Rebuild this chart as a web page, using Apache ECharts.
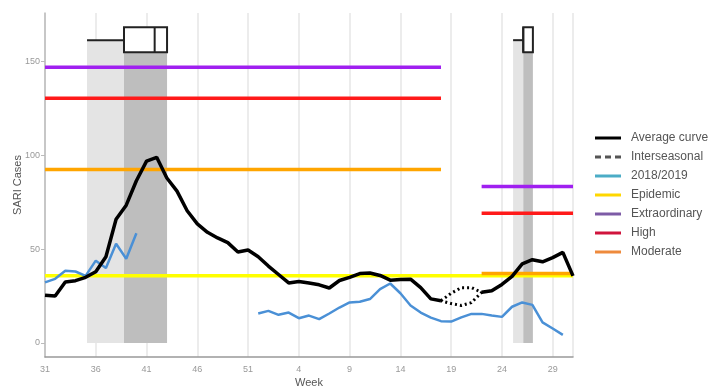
<!DOCTYPE html>
<html><head><meta charset="utf-8">
<script src="https://cdn.jsdelivr.net/npm/echarts@6/dist/echarts.min.js"></script>
<style>html,body{margin:0;padding:0;background:#fff}#c{width:708px;height:386px}</style>
</head><body><div id="c"></div>
<script>
// Week tick labels (index 0 = week 31 of 2018 ... index 52 = week 31 of 2019)
const weekLabels = [31,32,33,34,35,36,37,38,39,40,41,42,43,44,45,46,47,48,49,50,51,52,
  1,2,3,4,5,6,7,8,9,10,11,12,13,14,15,16,17,18,19,20,21,22,23,24,25,26,27,28,29,30,31];

// Average curve (null = interseasonal gap)
const avgCurve = [25.5,25,32.5,33.2,35,38,46,66,73.5,86.5,97,99,88,81,70.5,63.5,59,56,53.5,48.5,
  49.6,46,41,36.5,32,32.8,32,31,29.3,33.3,35,37,37.3,36,33.5,33.8,34,29.5,23.5,22.5,
  null,null,null,27,27.8,31.2,35.5,42.2,44.4,43.3,45.5,48.3,35.8];

// Interseasonal loop (starting at week index 39)
const interStart = 39;
const interUpper = [22.5,26.5,29.5,29.5,27];
const interLower = [22.5,21,20,21.5,27];

// Season 2018/2019
const season1819 = [32.3,34.2,38.5,38.1,35.8,43.9,40,52.9,44.9,58.5,
  null,null,null,null,null,null,null,null,null,null,null,
  15.7,17.1,15,16.2,13.2,14.6,12.7,15.7,18.9,21.6,22,23.4,28.7,31.7,26.5,20,16.2,13.5,11.6,
  11.4,13.6,15.5,15.5,14.6,13.9,19.3,21.6,20.3,11,7.7,4.3,null];

// Thresholds: [season 1, season 2]
const seasonRanges = [[0,39],[43,52]];
const epidemicLevel = 35.8;
const moderateLevels = [92.5,37];
const highLevels = [130.5,69.2];
const extraordinaryLevels = [147,83.4];

// Peak-week distribution per season: [min, q1, median, q3] in week index
const peakBoxes = [[4.14,7.78,10.8,12.02],[46.1,47.1,47.1,48.05]];

const yTicks = [0,50,100,150];

const FONT = 'Liberation Sans, Arial, sans-serif';

function lineData(i){ return weekLabels.map((_,k)=>[k, i[k]==null ? '-' : i[k]]); }

function segSeries(name, levels, color){
  return levels.map((v,s)=>({
    name, type:'line', symbol:'none', silent:true, z:3,
    lineStyle:{color, width:3.5}, itemStyle:{color},
    data:[[seasonRanges[s][0], v],[seasonRanges[s][1], v]]
  }));
}

const loopData = [];
interUpper.forEach((v,k)=>loopData.push([interStart+k, v]));
for (let k = interLower.length-1; k>=0; k--) loopData.push([interStart+k, interLower[k]]);

const series = [
  {
    type:'custom', silent:true, z:1,
    data: peakBoxes,
    encode:{x:[0,1,2,3]},
    renderItem(params, api){
      const lo=api.value(0), q1=api.value(1), med=api.value(2), q3=api.value(3);
      const c=(x,y)=>api.coord([x,y]);
      const lightTop=161.5, darkTop=155, boxTop=168.4, whY=161.5;
      const a0=c(lo,0), a1=c(q1,lightTop), b0=c(q1,0), b1=c(q3,darkTop);
      const w0=c(lo,whY), w1=c(q1,whY), bx0=c(q1,boxTop), bx1=c(q3,darkTop), m0=c(med,darkTop), m1=c(med,boxTop);
      return {type:'group', children:[
        {type:'rect', shape:{x:a0[0], y:a1[1], width:a1[0]-a0[0], height:a0[1]-a1[1]}, style:{fill:'#e4e4e4'}},
        {type:'rect', shape:{x:b0[0], y:b1[1], width:b1[0]-b0[0], height:b0[1]-b1[1]}, style:{fill:'#bebebe'}},
        {type:'line', shape:{x1:w0[0], y1:w0[1], x2:w1[0], y2:w1[1]}, style:{stroke:'#222', lineWidth:2}},
        {type:'rect', shape:{x:bx0[0], y:bx0[1], width:bx1[0]-bx0[0], height:bx1[1]-bx0[1]}, style:{fill:'#fff', stroke:'#222', lineWidth:2}},
        {type:'line', shape:{x1:m0[0], y1:m0[1], x2:m1[0], y2:m1[1]}, style:{stroke:'#222', lineWidth:2}}
      ]};
    }
  },
  {name:'Epidemic', type:'line', symbol:'none', silent:true, z:2,
   lineStyle:{color:'#ffff00', width:3.5}, itemStyle:{color:'#ffff00'},
   data:[[0,epidemicLevel],[52,epidemicLevel]]},
  ...segSeries('Extraordinary', extraordinaryLevels, '#a020f0'),
  ...segSeries('High', highLevels, '#ff1a1a'),
  ...segSeries('Moderate', moderateLevels, '#ffa500'),
  {name:'2018/2019', type:'line', symbol:'none', z:4, connectNulls:false,
   lineStyle:{color:'#4a90d6', width:2.5}, itemStyle:{color:'#4a90d6'},
   data: lineData(season1819)},
  {name:'Average curve', type:'line', symbol:'none', z:5, connectNulls:false,
   lineStyle:{color:'#000', width:3.5}, itemStyle:{color:'#000'},
   data: lineData(avgCurve)},
  {name:'Interseasonal', type:'line', symbol:'none', z:5,
   lineStyle:{color:'#000', width:3, type:[2,3]}, itemStyle:{color:'#000'},
   data: loopData}
];

const SOLID = 'path://M0,0h26v3h-26z';
const DASHED = 'path://M0,0h6v3h-6z M10,0h6v3h-6z M20,0h6v3h-6z';

const chart = echarts.init(document.getElementById('c'), null, {renderer:'canvas'});
chart.setOption({
  animation:false,
  backgroundColor:'#fff',
  textStyle:{fontFamily:FONT},
  grid:{left:45, right:135, top:13, bottom:29, outerBoundsMode:'none', containLabel:false},
  legend:{
    orient:'vertical', left:595, top:131, padding:0, itemWidth:26, itemHeight:3, itemGap:5,
    textStyle:{fontSize:12, color:'#555', fontFamily:FONT, padding:[0,0,0,5], lineHeight:14},
    data:[
      {name:'Average curve', icon:SOLID, itemStyle:{color:'#000'}},
      {name:'Interseasonal', icon:DASHED, itemStyle:{color:'#555'}},
      {name:'2018/2019', icon:SOLID, itemStyle:{color:'#4bacc6'}},
      {name:'Epidemic', icon:SOLID, itemStyle:{color:'#ffd700'}},
      {name:'Extraordinary', icon:SOLID, itemStyle:{color:'#7d5ba6'}},
      {name:'High', icon:SOLID, itemStyle:{color:'#d0143c'}},
      {name:'Moderate', icon:SOLID, itemStyle:{color:'#ee8a3c'}}
    ]
  },
  xAxis:{
    type:'value', min:0, max:52, interval:5,
    name:'Week', nameLocation:'middle', nameGap:20, nameMoveOverlap:false,
    nameTextStyle:{fontSize:11, color:'#555', fontFamily:FONT},
    axisLine:{onZero:false, lineStyle:{color:'#999', width:1.5}},
    axisTick:{show:false},
    axisLabel:{formatter:v=>String(weekLabels[v]), fontSize:9, color:'#999', margin:8, fontFamily:FONT, showMaxLabel:false},
    splitLine:{show:true, lineStyle:{color:'#e6e6e6', width:1.5}}
  },
  yAxis:{
    type:'value', min:-7.5, max:176,
    name:'SARI Cases', nameLocation:'middle', nameGap:22, nameMoveOverlap:false,
    nameTextStyle:{fontSize:11, color:'#555', fontFamily:FONT},
    axisLine:{show:true, onZero:false, lineStyle:{color:'#bbb', width:1.5}},
    axisTick:{show:true, customValues:yTicks, length:4, lineStyle:{color:'#bbb'}},
    axisLabel:{customValues:yTicks, fontSize:9, color:'#999', margin:5, fontFamily:FONT},
    splitLine:{show:false}
  },
  series
});
</script>
</body></html>
